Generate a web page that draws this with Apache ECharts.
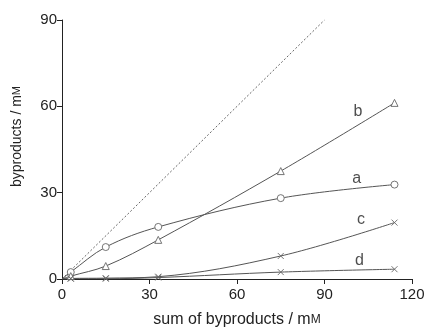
<!DOCTYPE html>
<html>
<head>
<meta charset="utf-8">
<script src="https://cdn.jsdelivr.net/npm/echarts@6/dist/echarts.min.js"></script>
<style>
  html, body { margin: 0; padding: 0; background: #fff; }
  #chart { width: 427px; height: 329px; }
</style>
</head>
<body>
<div id="chart"></div>
<script>
// 数据
const xValues = [3, 15, 33, 75, 114];
const seriesA = [2.4, 11.1, 18.1, 28.1, 32.8];   // 圆圈
const seriesB = [1.0, 4.5, 13.6, 37.5, 61.2];    // 三角
const seriesC = [0.2, 0.3, 0.8, 8.0, 19.6];      // 叉
const seriesD = [0.1, 0.1, 0.5, 2.4, 3.4];       // 叉
const diagonal = [[0, 0], [90, 90]];
const curveLabels = [
    { name: 'a', x: 101, y: 35 },
    { name: 'b', x: 101.5, y: 58 },
    { name: 'c', x: 102.5, y: 20.5 },
    { name: 'd', x: 102, y: 6.5 }
];
const xTicks = [0, 30, 60, 90, 120];
const yTicks = [0, 30, 60, 90];

const crossPath = 'path://M0,0L10,10M10,0L0,10';
const lineColor = '#555';
const font = 'Liberation Sans, Arial, sans-serif';

function withOrigin(values) {
    const pts = [{ value: [0, 0], symbol: 'none' }];
    values.forEach((v, i) => pts.push([xValues[i], v]));
    return pts;
}

function curve(values, symbol, size) {
    return {
        type: 'line',
        data: withOrigin(values),
        smooth: 0.35,
        symbol: symbol,
        symbolSize: size,
        showAllSymbol: true,
        lineStyle: { color: lineColor, width: 1 },
        itemStyle: { color: '#fff', borderColor: '#666', borderWidth: 0.9 },
        z: 3
    };
}

const chart = echarts.init(document.getElementById('chart'));

chart.setOption({
    animation: false,
    grid: { left: 62, right: 15, top: 20, bottom: 50, outerBoundsMode: 'none', containLabel: false },
    xAxis: {
        type: 'value',
        min: 0,
        max: 120,
        interval: 30,
        name: 'sum of byproducts / m{s|M}',
        nameLocation: 'middle',
        nameGap: 33,
        nameTextStyle: {
            fontFamily: font, fontSize: 16, color: '#222',
            rich: { s: { fontFamily: font, fontSize: 12, color: '#222' } }
        },
        axisLine: { lineStyle: { color: '#222', width: 1 } },
        axisTick: { length: 5, lineStyle: { color: '#222' } },
        axisLabel: {
            fontFamily: font, fontSize: 15, color: '#222', margin: 8,
            formatter: v => xTicks.includes(v) ? String(v) : ''
        },
        splitLine: { show: false }
    },
    yAxis: {
        type: 'value',
        min: 0,
        max: 90,
        interval: 30,
        name: 'byproducts / m{s|M}',
        nameLocation: 'middle',
        nameGap: 38,
        nameTextStyle: {
            fontFamily: font, fontSize: 14, color: '#222',
            padding: [0, 0, 0, 26],
            rich: { s: { fontFamily: font, fontSize: 11, color: '#222' } }
        },
        axisLine: { show: true, lineStyle: { color: '#222', width: 1 } },
        axisTick: { show: true, length: 5, lineStyle: { color: '#222' } },
        axisLabel: {
            fontFamily: font, fontSize: 15, color: '#222', margin: 5,
            formatter: v => yTicks.includes(v) ? String(v) : ''
        },
        splitLine: { show: false }
    },
    series: [
        {
            type: 'line',
            data: diagonal,
            symbol: 'none',
            lineStyle: { color: '#666', width: 1, type: [2, 2] },
            z: 2
        },
        curve(seriesA, 'circle', 7),
        curve(seriesB, 'triangle', 7),
        curve(seriesC, crossPath, 6),
        curve(seriesD, crossPath, 6),
        {
            type: 'scatter',
            data: curveLabels.map(l => ({ value: [l.x, l.y], name: l.name })),
            symbolSize: 0,
            label: {
                show: true,
                position: 'inside',
                formatter: p => p.name,
                fontFamily: font,
                fontSize: 16,
                color: '#222'
            },
            z: 4
        }
    ]
});
</script>
</body>
</html>
